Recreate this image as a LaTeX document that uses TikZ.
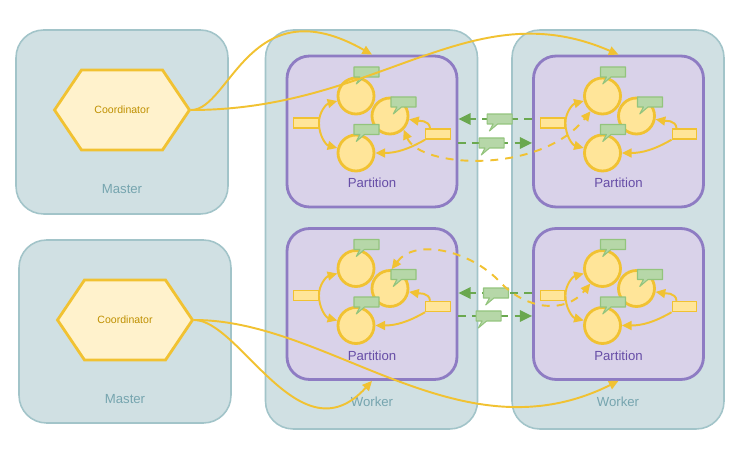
\documentclass[tikz,border=0pt]{standalone}
\usepackage{fontspec}
\setmainfont{Liberation Sans}
\usetikzlibrary{arrows.meta,shapes.symbols,shapes.callouts}
\definecolor{hostfill}{HTML}{D0E0E3}
\definecolor{hostline}{HTML}{A2C4C9}
\definecolor{hosttext}{HTML}{76A5AF}
\definecolor{partfill}{HTML}{D9D2E9}
\definecolor{partline}{HTML}{8E7CC3}
\definecolor{parttext}{HTML}{674EA7}
\definecolor{gold}{HTML}{F1C232}
\definecolor{goldfill}{HTML}{FFE599}
\definecolor{hexfill}{HTML}{FFF2CC}
\definecolor{hextext}{HTML}{BF9000}
\definecolor{msgfill}{HTML}{B6D7A8}
\definecolor{msgline}{HTML}{93C47D}
\definecolor{msgarrow}{HTML}{6AA84F}
\tikzset{
  hostbox/.style={draw=hostline, fill=hostfill, line width=0.9pt, rounded corners=0.55cm, minimum width=4.24cm},
  hosttitle/.style={text=hosttext, font=\fontsize{7.5}{9}\selectfont, inner sep=0pt},
  partbox/.style={draw=partline, fill=partfill, line width=1.6pt, rounded corners=0.45cm, minimum width=3.4cm, minimum height=3.02cm},
  parttitle/.style={text=parttext, font=\fontsize{7.5}{9}\selectfont, inner sep=0pt},
  coordhex/.style={signal, signal to=east and west, signal pointer angle=112, draw=gold, fill=hexfill, line width=1.6pt, minimum width=2.7cm, minimum height=1.6cm, inner sep=0pt, text=hextext, font=\fontsize{6}{7}\selectfont},
  vertex/.style={circle, draw=gold, fill=goldfill, line width=1.6pt, minimum size=0.72cm, inner sep=0pt},
  slot/.style={draw=gold, fill=goldfill, line width=0.8pt, minimum width=0.49cm, minimum height=0.2cm, inner sep=0pt},
  msg/.style={rectangle callout, solid, draw=msgline, fill=msgfill, line width=0.6pt, line join=round, minimum width=0.5cm, minimum height=0.2cm, inner sep=0pt, callout relative pointer={(-0.12cm,-0.14cm)}, callout pointer width=0.09cm},
  flow/.style={draw=gold, line width=1.1pt, ->},
  remote/.style={draw=gold, line width=1.1pt, dash pattern=on 4.5pt off 4pt, <->},
  sendmsg/.style={draw=msgarrow, line width=1.1pt, dash pattern=on 4.5pt off 3.5pt, -{Triangle[length=7pt,width=6.5pt]}}
}
\begin{document}
\begin{tikzpicture}[x=0.02cm, y=-0.02cm, >={Triangle[length=5.5pt,width=5pt]}]
  \useasboundingbox (0,0) rectangle (744,459);
  % hosts
  \node[hostbox, minimum height=3.68cm] (master1) at (122,122) {};
  \node[hostbox, minimum height=3.66cm] (master2) at (125,331.5) {};
  \node[hostbox, minimum height=7.98cm] (worker1) at (371.5,229.5) {};
  \node[hostbox, minimum height=7.98cm] (worker2) at (618,229.5) {};
  \node[hosttitle] (mt1) at (122,189) {Master};
  \node[hosttitle] (mt2) at (125,399) {Master};
  \node[hosttitle] (wt1) at (372,402) {Worker};
  \node[hosttitle] (wt2) at (618,402) {Worker};
  \node[coordhex] (coord1) at (122,110) {Coordinator};
  \node[coordhex] (coord2) at (125,320) {Coordinator};
  % partitions
  \foreach \n/\px/\py in {1/372/131.5, 2/618.5/131.5, 3/372/304, 4/618.5/304} {
    \node[partbox] (p\n) at (\px,\py) {};
    \node[parttitle] (pt\n) at ([shift={(0,51.5)}]p\n) {Partition};
    \node[vertex] (a\n) at ([shift={(-16,-35.5)}]p\n) {};
    \node[vertex] (b\n) at ([shift={(18,-15.5)}]p\n) {};
    \node[vertex] (c\n) at ([shift={(-16,21.5)}]p\n) {};
    \node[msg] (ma\n) at ([shift={(10.5,-24)}]a\n) {};
    \node[msg] (mb\n) at ([shift={(13.5,-14)}]b\n) {};
    \node[msg] (mc\n) at ([shift={(10.5,-23.5)}]c\n) {};
    \node[slot] (l\n) at ([shift={(-66,-8.5)}]p\n) {};
    \node[slot] (r\n) at ([shift={(66,2.5)}]p\n) {};
    \draw[flow] (l\n.east) to[out=90,in=195] (a\n);
    \draw[flow] (l\n.east) to[out=-90,in=165] (c\n);
    \draw[flow] ([xshift=0.1cm]r\n.north west) to[out=95,in=-10] (b\n);
    \draw[flow] (r\n.south west) to[out=210,in=0] (c\n);
  }
  % messages between partitions
  \draw[sendmsg] ([yshift=0.25cm]p2.west) -- node[msg, pos=0.44] (m21) {} ([yshift=0.25cm]p1.east);
  \draw[sendmsg] ([yshift=-0.23cm]p1.east) -- node[msg, pos=0.45] (m12) {} ([yshift=-0.23cm]p2.west);
  \draw[sendmsg] ([yshift=0.22cm]p4.west) -- node[msg, pos=0.49] (m43) {} ([yshift=0.22cm]p3.east);
  \draw[sendmsg] ([yshift=-0.24cm]p3.east) -- node[msg, pos=0.41] (m34) {} ([yshift=-0.24cm]p4.west);
  \draw[remote] (b1.-45) .. controls (420,168) and (540,175) .. (a2.232);
  \draw[remote] (b3.85) .. controls (415,238) and (470,250) .. (500,282)
    .. controls (525,309) and (565,315) .. (a4.231);
  % coordinators to partitions
  \draw[flow] (coord1.east) .. controls (230,110) and (250,-15) .. (p1.north);
  \draw[flow] (coord1.east) .. controls (380,110) and (470,-10) .. (p2.north);
  \draw[flow] (coord2.east) .. controls (240,320) and (300,460) .. (p3.south);
  \draw[flow] (coord2.east) .. controls (330,320) and (460,460) .. (p4.south);
\end{tikzpicture}
\end{document}
